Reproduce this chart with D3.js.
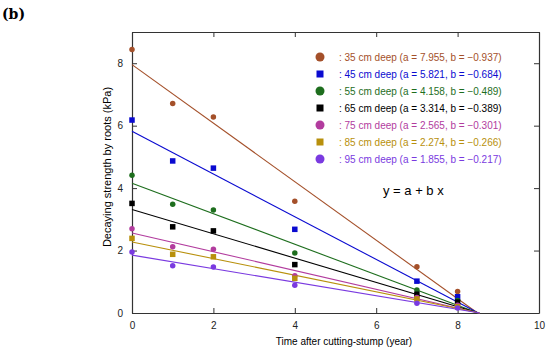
<!DOCTYPE html>
<html>
<head>
<meta charset="utf-8">
<script src="https://cdn.jsdelivr.net/npm/d3@7"></script>
<style>
  body { margin: 0; background: #fff; }
  text { font-family: "Liberation Sans", Arial, sans-serif; }
</style>
</head>
<body>
<div id="vis"></div>
<script>
// sampling times (year)
var years = [0, 1, 2, 4, 7, 8];

// depth series
var depths = ["35", "45", "55", "65", "75", "85", "95"];
var coefA = [7.955, 5.821, 4.158, 3.314, 2.565, 2.274, 1.855];
var coefB = [-0.937, -0.684, -0.489, -0.389, -0.301, -0.266, -0.217];
var shapes = ["circle", "square", "circle", "square", "circle", "square", "circle"];
var colors = ["#a4502a", "#0a0ad0", "#1e6e1e", "#000000", "#b23c9e", "#b8900c", "#7a3ae0"];

// measured strength (kPa) per depth
var s35 = [8.44, 6.71, 6.28, 3.58, 1.48, 0.69];
var s45 = [6.18, 4.87, 4.64, 2.68, 1.02, 0.52];
var s55 = [4.41, 3.48, 3.30, 1.92, 0.74, 0.40];
var s65 = [3.51, 2.76, 2.63, 1.55, 0.60, 0.35];
var s75 = [2.70, 2.12, 2.04, 1.19, 0.50, 0.25];
var s85 = [2.39, 1.88, 1.80, 1.11, 0.45, 0.20];
var s95 = [1.95, 1.51, 1.47, 0.89, 0.31, 0.16];
var strengths = [s35, s45, s55, s65, s75, s85, s95];

var xTicks = [0, 2, 4, 6, 8, 10];
var yTicks = [0, 2, 4, 6, 8];

var width = 550, height = 349;
var margin = {top: 32, right: 11, bottom: 36, left: 132};
var gw = width - margin.left - margin.right,
    gh = height - margin.top - margin.bottom;

var svg = d3.select("#vis").append("svg")
  .attr("width", width)
  .attr("height", height);

svg.append("text")
  .attr("x", 2).attr("y", 19)
  .style("font-family", "'DejaVu Serif', 'Liberation Serif', serif")
  .style("font-weight", "bold")
  .style("font-size", "14px")
  .text("(b)");

var x = d3.scaleLinear().domain([0, 10]).range([0, gw]);
var y = d3.scaleLinear().domain([0, 9]).range([gh, 0]);

var graph = svg.append("g")
  .attr("transform", "translate(" + margin.left + "," + margin.top + ")");

// axes with inward ticks, mirrored on top and right
function styleAxis(g) {
  g.select(".domain").attr("stroke", "#333").attr("stroke-width", 1.2);
  g.selectAll(".tick line").attr("stroke", "#333");
  g.selectAll(".tick text").style("font-size", "10px").attr("fill", "#222");
}

graph.append("g")
  .attr("transform", "translate(0," + gh + ")")
  .call(d3.axisBottom(x).tickValues(xTicks).tickSizeInner(-5).tickSizeOuter(0).tickPadding(9))
  .call(styleAxis);

graph.append("g")
  .call(d3.axisLeft(y).tickValues(yTicks).tickSizeInner(-5).tickSizeOuter(0).tickPadding(9))
  .call(styleAxis);

graph.append("g")
  .call(d3.axisTop(x).tickValues(xTicks).tickSizeInner(-5).tickSizeOuter(0).tickFormat(""))
  .call(styleAxis);

graph.append("g")
  .attr("transform", "translate(" + gw + ",0)")
  .call(d3.axisRight(y).tickValues(yTicks).tickSizeInner(-5).tickSizeOuter(0).tickFormat(""))
  .call(styleAxis);

// axis titles
svg.append("text")
  .attr("x", 344)
  .attr("y", 345)
  .attr("text-anchor", "middle")
  .style("font-size", "10px")
  .text("Time after cutting-stump (year)");

svg.append("text")
  .attr("transform", "translate(111,167) rotate(-90)")
  .attr("text-anchor", "middle")
  .style("font-size", "11px")
  .text("Decaying strength by roots (kPa)");

// fitted lines y = a + b x, drawn until they reach zero
var line = d3.line().x(function(d) { return x(d[0]); }).y(function(d) { return y(d[1]); });

depths.forEach(function(dep, i) {
  var xEnd = -coefA[i] / coefB[i];
  graph.append("path")
    .datum([[0, coefA[i]], [xEnd, 0]])
    .attr("d", line)
    .attr("fill", "none")
    .attr("stroke", colors[i])
    .attr("stroke-width", 1.1);
});

// markers
function drawMarker(g, shape, cx, cy, size, color) {
  if (shape === "circle") {
    g.append("circle").attr("cx", cx).attr("cy", cy).attr("r", size / 2).attr("fill", color);
  } else {
    g.append("rect").attr("x", cx - size / 2).attr("y", cy - size / 2)
      .attr("width", size).attr("height", size).attr("fill", color);
  }
}

depths.forEach(function(dep, i) {
  var g = graph.append("g");
  strengths[i].forEach(function(v, j) {
    drawMarker(g, shapes[i], x(years[j]), y(v), 5.5, colors[i]);
  });
});

// legend
var legend = svg.append("g");
var legendX = 320, legendY = 57, legendStep = 17;
depths.forEach(function(dep, i) {
  var ly = legendY + i * legendStep;
  drawMarker(legend, shapes[i], legendX, ly, shapes[i] === "circle" ? 9 : 7, colors[i]);
  legend.append("text")
    .attr("x", legendX + 19)
    .attr("y", ly + 3.5)
    .style("font-size", "10px")
    .attr("fill", colors[i])
    .text(": " + dep + " cm deep (a = " + coefA[i].toFixed(3) + ", b = " + coefB[i].toFixed(3).replace("-", "\u2212") + ")");
});

svg.append("text")
  .attr("x", 383)
  .attr("y", 195)
  .style("font-size", "13px")
  .text("y = a + b x");
</script>
</body>
</html>
